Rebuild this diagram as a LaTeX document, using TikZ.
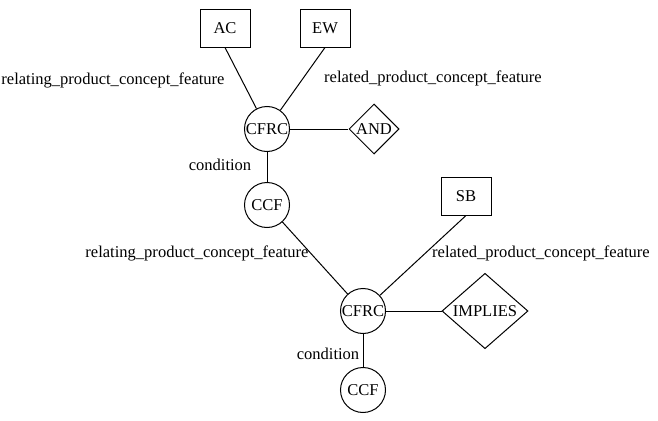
\documentclass[tikz,border=0pt]{standalone}
\usepackage{fontspec}
\setmainfont{Liberation Serif}
\usetikzlibrary{shapes.geometric}
\tikzset{
  entity/.style={draw,rectangle,inner sep=0pt,minimum width=37.5pt,minimum height=28.5pt},
  concept/.style={draw,circle,inner sep=0pt,minimum size=33.75pt},
  operator/.style={draw,diamond,inner sep=0pt},
  role/.style={inner sep=0pt},
  every node/.style={font=\fontsize{12.4}{14}\selectfont},
}
\begin{document}
\begin{tikzpicture}[x=0.75pt,y=-0.75pt,line width=0.75pt]
    \useasboundingbox (0,0) rectangle (658,421);

    % upper part
    \node[entity]  (ac)    at (225,28)  {AC};
    \node[entity]  (ew)    at (325,28)  {EW};
    \node[concept] (cfrc1) at (267,129) {CFRC};
    \node[operator,minimum width=37.5pt,minimum height=37.5pt] (and) at (374,129) {AND};
    \node[concept] (ccf1)  at (267,205) {CCF};

    % lower part
    \node[entity]  (sb)    at (466,196) {SB};
    \node[concept] (cfrc2) at (363,311) {CFRC};
    \node[operator,minimum width=64.5pt,minimum height=55.5pt] (implies) at (485,311) {IMPLIES};
    \node[concept] (ccf2)  at (363,390) {CCF};

    \draw (ac.south) -- (cfrc1);
    \draw (ew.south) -- (cfrc1);
    \draw (cfrc1) -- (and);
    \draw (cfrc1) -- (ccf1);

    \draw (ccf1) -- (cfrc2);
    \draw (sb.south) -- (cfrc2);
    \draw (cfrc2) -- (implies);
    \draw (cfrc2) -- (ccf2);

    % role names
    \node[role] (relating1) at (113,80)  {relating\_product\_concept\_feature};
    \node[role] (related1)  at (433,78)  {related\_product\_concept\_feature};
    \node[role] (cond1)     at (220,165) {condition};
    \node[role] (relating2) at (197,253) {relating\_product\_concept\_feature};
    \node[role] (related2)  at (541,253) {related\_product\_concept\_feature};
    \node[role] (cond2)     at (328,354) {condition};
\end{tikzpicture}
\end{document}
